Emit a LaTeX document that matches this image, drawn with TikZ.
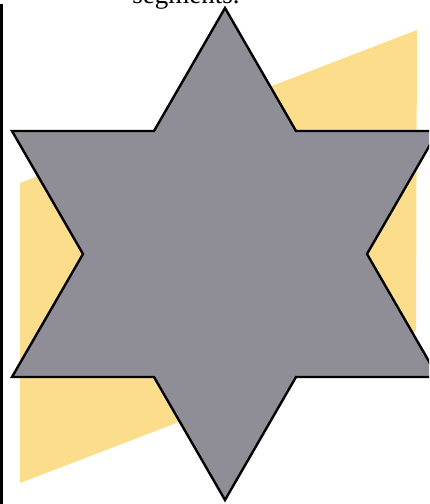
\documentclass[tikz,border=0pt]{standalone}
\usepackage{fontspec}
\setmainfont{Liberation Serif}
\definecolor{paper}{RGB}{255,255,255}
\definecolor{sand}{RGB}{252,221,140}
\definecolor{slate}{RGB}{143,142,150}
\tikzset{
  backband/.style={fill=sand, draw=none},
  starshape/.style={fill=slate, draw=black, line width=2.4pt, line join=miter},
  edgerule/.style={draw=black, line width=2.5pt},
  cuttext/.style={font=\fontsize{27}{27}\selectfont, inner sep=0pt, anchor=base}
}
\begin{document}
\begin{tikzpicture}[x=1pt,y=-1pt]
  \useasboundingbox (0,0) rectangle (429,504);
  \clip (0,0) rectangle (429,504);
  \fill[paper] (0,0) rectangle (429,504);
  % yellow parallelogram behind
  \path[backband] (20,183) -- (417,30) -- (416,331) -- (20,483) -- cycle;
  % star
  \path[starshape]
    (225,8) -- (296,131) -- (438,131) -- (367,254) -- (438,377) -- (296,377)
    -- (225,500) -- (154,377) -- (12,377) -- (83,254) -- (12,131) -- (154,131) -- cycle;
  % left rule
  \draw[edgerule] (1.5,4) -- (1.5,504);
  % cut-off text at top
  \node[cuttext] (caption) at (186,3) {segments.};
\end{tikzpicture}
\end{document}
